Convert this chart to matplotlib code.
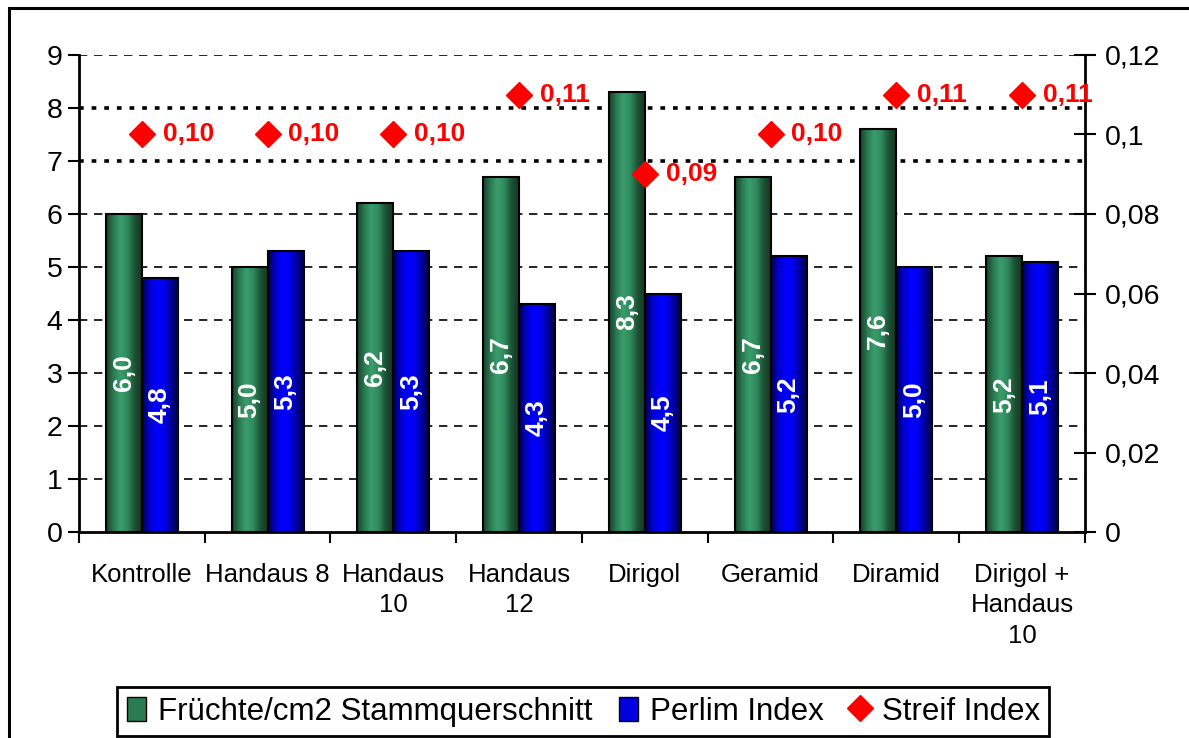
import numpy as np
import matplotlib
matplotlib.use("Agg")
import matplotlib.pyplot as plt
from matplotlib.patches import Rectangle, Patch
from matplotlib.lines import Line2D
from matplotlib.colors import LinearSegmentedColormap

plt.rcParams['font.family'] = ['Liberation Sans', 'DejaVu Sans']

# data
categories = ["Kontrolle", "Handaus 8", "Handaus\n10", "Handaus\n12", "Dirigol",
              "Geramid", "Diramid", "Dirigol +\nHandaus\n10"]
fruechte = [6.0, 5.0, 6.2, 6.7, 8.3, 6.7, 7.6, 5.2]
perlim = [4.8, 5.3, 5.3, 4.3, 4.5, 5.2, 5.0, 5.1]
streif = [0.10, 0.10, 0.10, 0.11, 0.09, 0.10, 0.11, 0.11]

# cylinder-like shading for the bars
green_cmap = LinearSegmentedColormap.from_list(
    "g", ["#17402a", "#2a7a52", "#3a9d6c", "#2f8a5c", "#1d5236", "#143822"])
blue_cmap = LinearSegmentedColormap.from_list(
    "b", ["#000050", "#0000c8", "#0000ff", "#0000f0", "#0000a0", "#000048"])
grad = np.linspace(0, 1, 64).reshape(1, -1)

fig = plt.figure(figsize=(11.89, 7.38), dpi=100)
ax = fig.add_axes([0.0664, 0.2791, 0.8461, 0.6464])
ax2 = ax.twinx()

x = np.arange(len(categories))
w = 0.286


def gradient_bars(xs, heights, cmap):
    for xi, h in zip(xs, heights):
        ax.imshow(grad, cmap=cmap, aspect="auto", extent=(xi - w / 2, xi + w / 2, 0, h),
                  zorder=3, interpolation="bilinear")
        ax.add_patch(Rectangle((xi - w / 2, 0), w, h, fill=False, ec="black", lw=1.5, zorder=4))


gradient_bars(x - w / 2, fruechte, green_cmap)
gradient_bars(x + w / 2, perlim, blue_cmap)

for xi, v in zip(x - w / 2, fruechte):
    ax.text(xi, v / 2, f"{v:.1f}".replace(".", ","), rotation=90, color="white",
            fontsize=19, fontweight="bold", ha="center", va="center", zorder=5)
for xi, v in zip(x + w / 2, perlim):
    ax.text(xi, v / 2, f"{v:.1f}".replace(".", ","), rotation=90, color="white",
            fontsize=19, fontweight="bold", ha="center", va="center", zorder=5)

# gridlines
for yv in range(1, 10):
    if yv in (7, 8):
        ax.axhline(yv, color="black", lw=2.6, ls=(0, (1.3, 2.2)), zorder=1)
    else:
        ax.axhline(yv, color="black", lw=1.2, ls=(0, (5, 4)), zorder=1)

ax.set_xlim(-0.5, len(categories) - 0.5)
ax.set_ylim(0, 9)
ax.set_yticks(range(0, 10))
ax.tick_params(axis="y", labelsize=20.5, length=8, width=1.5, direction="out", pad=4)
ax.set_xticks(x)
ax.set_xticklabels(categories, fontsize=18.5, linespacing=1.35)
ax.tick_params(axis="x", length=0, pad=22)
ax.set_xticks(np.arange(-0.5, len(categories)), minor=True)
ax.tick_params(axis="x", which="minor", length=8, width=1.5, direction="out")
for s in ["top", "right"]:
    ax.spines[s].set_visible(False)
ax.spines["left"].set_linewidth(2)
ax.spines["bottom"].set_linewidth(2)
ax.set_zorder(1)
ax.patch.set_visible(False)

# secondary axis
ax2.plot(x, streif, ls="none", marker="D", ms=13.5, color="#ff0000", mec="#ff0000", zorder=6,
         clip_on=False)
for xi, v in zip(x, streif):
    ax2.annotate(f"{v:.2f}".replace(".", ","), (xi, v), xytext=(15, 0),
                 textcoords="offset points", color="#ff0000", fontsize=19,
                 fontweight="bold", ha="left", va="center", zorder=6, annotation_clip=False)
ax2.set_ylim(0, 0.12)
ax2.set_yticks(np.arange(0, 0.121, 0.02))
ax2.set_yticklabels(["0", "0,02", "0,04", "0,06", "0,08", "0,1", "0,12"])
ax2.tick_params(axis="y", labelsize=20.5, length=16, width=1.5, direction="inout", pad=6)
for s in ["top", "left", "bottom"]:
    ax2.spines[s].set_visible(False)
ax2.spines["right"].set_linewidth(2)
ax2.set_zorder(2)

# legend
handles = [Patch(facecolor="#2a7a52", edgecolor="black"),
           Patch(facecolor="#0000e0", edgecolor="black"),
           Line2D([], [], ls="none", marker="D", ms=13, color="#ff0000")]
labels = ["Früchte/cm2 Stammquerschnitt", "Perlim Index", "Streif Index"]
leg = fig.legend(handles, labels, loc="center", bbox_to_anchor=(0.4907, 0.0355), ncol=3,
                 fontsize=22.5, frameon=True, fancybox=False, framealpha=1,
                 handlelength=0.6, handleheight=0.8, handletextpad=0.4,
                 columnspacing=0.85, borderpad=0.3, borderaxespad=0)
leg.get_frame().set_edgecolor("black")
leg.get_frame().set_linewidth(2)

# outer border
fig.patches.append(Rectangle((9 / 1189, -0.05), 1.05, 1.05 - 8 / 738, transform=fig.transFigure,
                             fill=False, ec="black", lw=2.2))

fig.savefig("out.png", dpi=100)
